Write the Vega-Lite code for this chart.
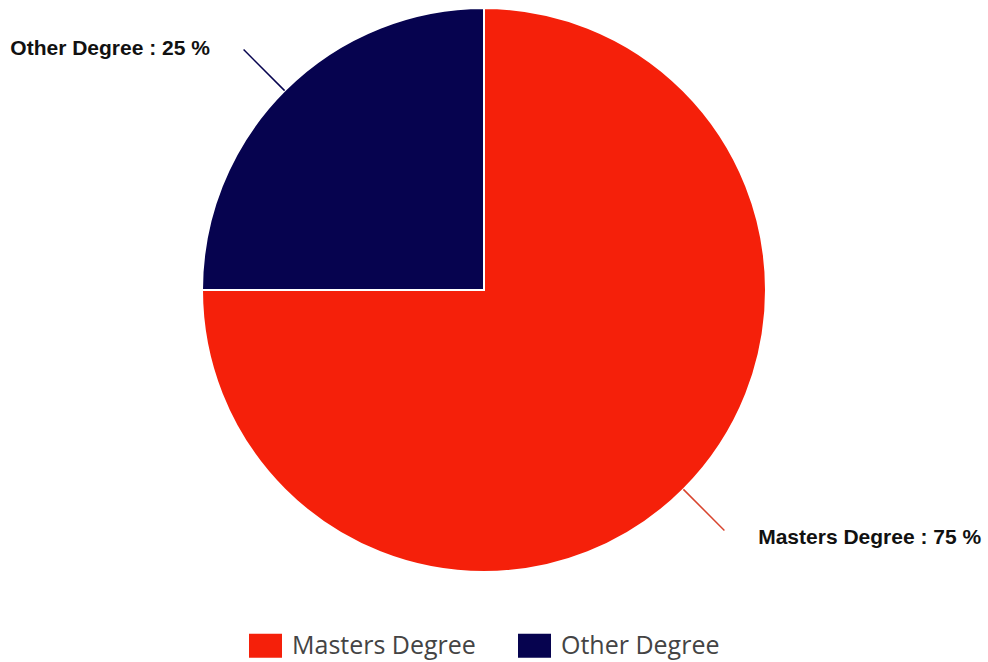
{
  "$schema": "https://vega.github.io/schema/vega-lite/v6.json",
  "autosize": {"type": "none"},
  "width": 968,
  "height": 580,
  "padding": {"left": 0, "top": 0, "right": 20, "bottom": 82},
  "background": "white",
  "data": {"values": [
    {"degree": "Masters Degree", "pct": 75},
    {"degree": "Other Degree", "pct": 25}
  ]},
  "transform": [
    {"stack": "pct", "groupby": [], "sort": [{"field": "degree", "order": "ascending"}], "as": ["v0", "v1"]},
    {"calculate": "(datum.v0 + datum.v1) / 2", "as": "mid"},
    {"calculate": "datum.degree + ' : ' + datum.pct + ' %'", "as": "label"}
  ],
  "layer": [
    {
      "mark": {"type": "arc", "outerRadius": 282, "stroke": "white", "strokeWidth": 2},
      "encoding": {
        "theta": {"field": "pct", "type": "quantitative", "stack": true, "scale": {"domain": [0, 100]}},
        "order": {"field": "degree", "sort": "ascending"},
        "color": {
          "field": "degree", "type": "nominal",
          "scale": {"domain": ["Masters Degree", "Other Degree"], "range": ["#F5200A", "#06034F"]},
          "legend": {
            "orient": "none", "legendX": 249, "legendY": 629, "direction": "horizontal", "title": null, "padding": 0,
            "symbolType": "M-1,-0.73H1V0.73H-1Z", "symbolSize": 1089, "symbolStrokeWidth": 0, "symbolOpacity": 1,
            "labelFont": "Open Sans", "labelFontSize": 25, "labelColor": "#444444", "labelLimit": 400,
            "labelOffset": 10, "columnPadding": 42
          }
        }
      }
    },
    {
      "mark": {"type": "arc", "innerRadius": 282, "outerRadius": 340, "strokeWidth": 1.5},
      "encoding": {
        "theta": {"field": "mid", "type": "quantitative", "stack": null},
        "theta2": {"field": "mid"},
        "stroke": {"field": "degree", "type": "nominal", "legend": null,
          "scale": {"domain": ["Masters Degree", "Other Degree"], "range": ["#D8442E", "#06034F"]}}
      }
    },
    {
      "transform": [{"filter": "datum.degree == 'Other Degree'"}],
      "mark": {"type": "text", "radius": 341, "align": "right", "baseline": "middle", "dx": -33, "font": "Liberation Sans", "fontWeight": "bold", "fontSize": 21, "fill": "#111111"},
      "encoding": {
        "theta": {"field": "mid", "type": "quantitative", "stack": null},
        "text": {"field": "label"}
      }
    },
    {
      "transform": [{"filter": "datum.degree == 'Masters Degree'"}],
      "mark": {"type": "text", "radius": 351, "align": "left", "baseline": "middle", "dx": 26, "font": "Liberation Sans", "fontWeight": "bold", "fontSize": 21, "fill": "#111111"},
      "encoding": {
        "theta": {"field": "mid", "type": "quantitative", "stack": null},
        "text": {"field": "label"}
      }
    }
  ],
  "config": {"view": {"stroke": null}}
}
